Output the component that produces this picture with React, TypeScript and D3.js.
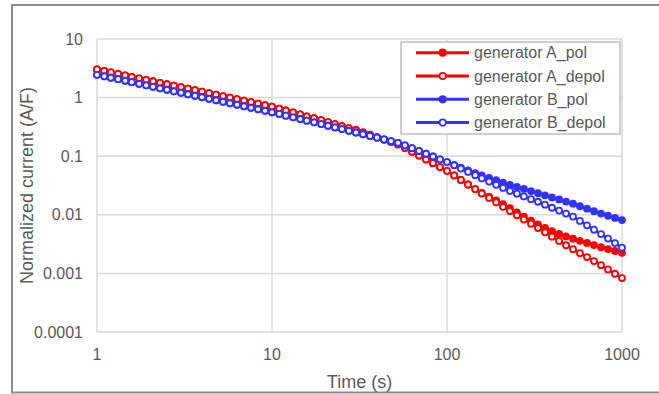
import React from "react";
import * as d3 from "d3";

const times = [
  1, 1.1, 1.2, 1.32, 1.45, 1.58, 1.74, 1.91, 2.09, 2.29, 2.51, 2.75, 3.02, 3.31, 3.63, 3.98, 4.37, 4.79, 5.25, 5.75, 6.31, 6.92, 7.59, 8.32, 9.12,
  10, 11, 12, 13.2, 14.5, 15.8, 17.4, 19.1, 20.9, 22.9, 25.1, 27.5, 30.2, 33.1, 36.3, 39.8, 43.7, 47.9, 52.5, 57.5, 63.1, 69.2, 75.9, 83.2, 91.2,
  100, 110, 120, 132, 145, 158, 174, 191, 209, 229, 251, 275, 302, 331, 363, 398, 437, 479, 525, 575, 631, 692, 759, 832, 912, 1000,
];

const genA_pol = [
  3.02, 2.85, 2.69, 2.54, 2.39, 2.26, 2.13, 2.01, 1.9, 1.79, 1.69, 1.6, 1.51, 1.42, 1.34, 1.26, 1.19, 1.12, 1.06, 0.997, 0.94, 0.886, 0.835, 0.787, 0.742,
  0.7, 0.649, 0.602, 0.558, 0.517, 0.48, 0.445, 0.412, 0.381, 0.353, 0.327, 0.302, 0.28, 0.256, 0.233, 0.212, 0.192, 0.175, 0.159, 0.138, 0.119, 0.1025, 0.0882, 0.0759, 0.0653,
  0.0562, 0.047, 0.0393, 0.0329, 0.0275, 0.0236, 0.0204, 0.0176, 0.0152, 0.013, 0.011, 0.00933, 0.00791, 0.00686, 0.006, 0.00525, 0.00473, 0.00427, 0.00392, 0.0036, 0.00331, 0.00304, 0.0028, 0.0026, 0.00241, 0.00224,
];

const genA_depol = [
  3.02, 2.85, 2.69, 2.54, 2.39, 2.26, 2.13, 2.01, 1.9, 1.79, 1.69, 1.6, 1.51, 1.42, 1.34, 1.26, 1.19, 1.12, 1.06, 0.997, 0.94, 0.886, 0.835, 0.787, 0.742,
  0.7, 0.649, 0.602, 0.558, 0.517, 0.48, 0.445, 0.412, 0.381, 0.353, 0.327, 0.302, 0.28, 0.256, 0.233, 0.212, 0.192, 0.175, 0.159, 0.138, 0.119, 0.1025, 0.0882, 0.0759, 0.0653,
  0.0562, 0.047, 0.0393, 0.0329, 0.0275, 0.0231, 0.0194, 0.0163, 0.0137, 0.0116, 0.00982, 0.00832, 0.00705, 0.00595, 0.00502, 0.00424, 0.00358, 0.00302, 0.00259, 0.00221, 0.0019, 0.00162, 0.00138, 0.00117, 0.000986, 0.000832,
];

const genB_pol = [
  2.45, 2.31, 2.18, 2.06, 1.94, 1.83, 1.72, 1.62, 1.53, 1.44, 1.36, 1.28, 1.21, 1.14, 1.076, 1.014, 0.956, 0.901, 0.85, 0.801, 0.755, 0.712, 0.671, 0.633, 0.596,
  0.562, 0.526, 0.492, 0.461, 0.431, 0.404, 0.378, 0.353, 0.331, 0.31, 0.29, 0.271, 0.254, 0.237, 0.222, 0.207, 0.193, 0.181, 0.169, 0.153, 0.137, 0.123, 0.11, 0.0988, 0.0886,
  0.0794, 0.0711, 0.0637, 0.057, 0.0513, 0.0468, 0.0427, 0.0389, 0.0355, 0.0325, 0.0299, 0.0276, 0.0254, 0.0234, 0.0215, 0.0198, 0.0183, 0.0168, 0.0155, 0.014, 0.0127, 0.0115, 0.0105, 0.00963, 0.00885, 0.00813,
];

const genB_depol = [
  2.45, 2.31, 2.18, 2.06, 1.94, 1.83, 1.72, 1.62, 1.53, 1.44, 1.36, 1.28, 1.21, 1.14, 1.076, 1.014, 0.956, 0.901, 0.85, 0.801, 0.755, 0.712, 0.671, 0.633, 0.596,
  0.562, 0.526, 0.492, 0.461, 0.431, 0.404, 0.378, 0.353, 0.331, 0.31, 0.29, 0.271, 0.254, 0.237, 0.222, 0.207, 0.193, 0.181, 0.169, 0.153, 0.137, 0.123, 0.11, 0.0988, 0.0886,
  0.0794, 0.0698, 0.0614, 0.054, 0.0475, 0.0418, 0.0369, 0.0325, 0.0287, 0.0255, 0.0229, 0.0206, 0.0185, 0.0167, 0.0149, 0.0132, 0.0118, 0.0105, 0.00933, 0.00786, 0.00662, 0.00557, 0.00469, 0.00393, 0.00329, 0.00275,
];

const seriesNames = ["generator A_pol", "generator A_depol", "generator B_pol", "generator B_depol"];
const seriesColors = ["#ff0000", "#ff0000", "#3333ff", "#3333ff"];
const seriesFilled = [true, false, true, false];
const seriesValues = [genA_pol, genA_depol, genB_pol, genB_depol];

const xTicks = [1, 10, 100, 1000];
const xTickLabels = ["1", "10", "100", "1000"];
const yTicks = [10, 1, 0.1, 0.01, 0.001, 0.0001];
const yTickLabels = ["10", "1", "0.1", "0.01", "0.001", "0.0001"];

const W = 659;
const H = 394;
const left = 97;
const right = 622;
const top = 39;
const bottom = 332;
const font = "'Liberation Sans', Arial, sans-serif";
const textColor = "#595959";
const gridColor = "#d9d9d9";

export default function App() {
  const x = d3.scaleLog().domain([1, 1000]).range([left, right]);
  const y = d3.scaleLog().domain([0.0001, 10]).range([bottom, top]);

  const line = d3
    .line<[number, number]>()
    .x((d) => x(d[0]))
    .y((d) => y(d[1]));

  const legX = 401;
  const legY = 42;
  const legW = 219;
  const legH = 92;
  const rowH = 23.3;

  return (
    <svg width={W} height={H} style={{ position: "absolute", left: 0, top: 0, background: "#fff" }}>
      <rect x={0} y={0} width={W} height={H} fill="#fff" />
      {/* chart border */}
      <rect x={12} y={5} width={W + 10} height={387.5} fill="none" stroke="#8c8c8c" strokeWidth={2} />

      {/* gridlines */}
      {yTicks.map((t, i) => (
        <line key={"gy" + i} x1={left} x2={right} y1={y(t)} y2={y(t)} stroke={gridColor} strokeWidth={1.5} />
      ))}
      {xTicks.map((t, i) => (
        <line key={"gx" + i} x1={x(t)} x2={x(t)} y1={top} y2={bottom} stroke={gridColor} strokeWidth={1.5} />
      ))}

      {/* tick labels */}
      {yTicks.map((t, i) => (
        <text key={"ty" + i} x={83} y={y(t)} dy="0.35em" textAnchor="end" fontFamily={font} fontSize={16} fill={textColor}>
          {yTickLabels[i]}
        </text>
      ))}
      {xTicks.map((t, i) => (
        <text key={"tx" + i} x={x(t)} y={360} textAnchor="middle" fontFamily={font} fontSize={16} fill={textColor}>
          {xTickLabels[i]}
        </text>
      ))}

      {/* axis titles */}
      <text x={(left + right) / 2} y={388} textAnchor="middle" fontFamily={font} fontSize={18} fill={textColor}>
        Time (s)
      </text>
      <text
        transform={`translate(33, ${(top + bottom) / 2}) rotate(-90)`}
        textAnchor="middle"
        fontFamily={font}
        fontSize={18}
        fill={textColor}
      >
        Normalized current (A/F)
      </text>

      {/* series */}
      {seriesValues.map((vals, si) => {
        const pts: [number, number][] = times.map((t, i) => [t, vals[i]]);
        return (
          <g key={"s" + si}>
            <path d={line(pts) || ""} fill="none" stroke={seriesColors[si]} strokeWidth={2.5} />
            {pts.map((p, i) => (
              <circle
                key={i}
                cx={x(p[0])}
                cy={y(p[1])}
                r={3}
                fill={seriesFilled[si] ? seriesColors[si] : "#fff"}
                stroke={seriesColors[si]}
                strokeWidth={1.8}
              />
            ))}
          </g>
        );
      })}

      {/* legend */}
      <rect x={legX} y={legY} width={legW} height={legH} fill="#fff" stroke="#bfbfbf" strokeWidth={1.5} />
      {seriesNames.map((name, i) => {
        const cy = legY + 10.7 + i * rowH;
        return (
          <g key={"l" + i}>
            <line x1={416} x2={469} y1={cy} y2={cy} stroke={seriesColors[i]} strokeWidth={3} />
            <circle cx={442.7} cy={cy} r={3.2} fill={seriesFilled[i] ? seriesColors[i] : "#fff"} stroke={seriesColors[i]} strokeWidth={1.8} />
            <text x={474} y={cy} dy="0.35em" fontFamily={font} fontSize={16} fill={textColor}>
              {name}
            </text>
          </g>
        );
      })}
    </svg>
  );
}
